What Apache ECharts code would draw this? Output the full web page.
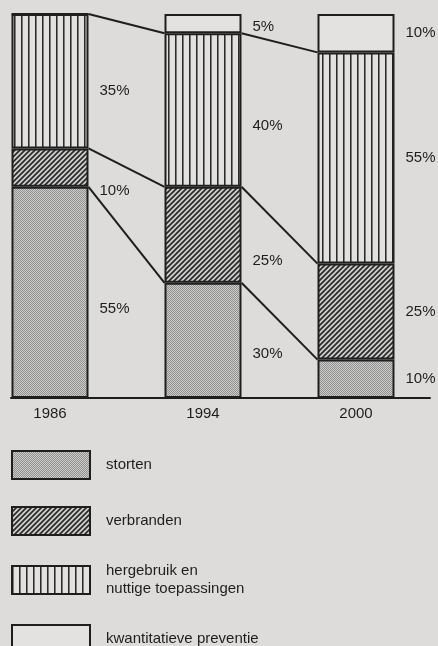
<!DOCTYPE html>
<html>
<head>
<meta charset="utf-8">
<script src="https://cdn.jsdelivr.net/npm/echarts@6/dist/echarts.min.js"></script>
<style>
    html, body { margin: 0; padding: 0; background: #dddcda; }
    #chart { width: 438px; height: 646px; }
</style>
</head>
<body>
<div id="chart"></div>
<script>
// gegevens (percentages per jaar)
var years = ['1986', '1994', '2000'];
var storten = [55, 30, 10];
var verbranden = [10, 25, 25];
var hergebruik = [35, 40, 55];
var preventie = [0, 5, 10];
var seriesNames = ['storten', 'verbranden', 'hergebruik en\nnuttige toepassingen', 'kwantitatieve preventie'];

var BG = '#dddcda';
var INK = '#1e1e1e';
var BAR_W = 77;
var FONT = '15px "Liberation Sans", Arial, sans-serif';

// arceringen als canvas-patroon
function makePattern(w, h, draw) {
    var c = document.createElement('canvas');
    c.width = w;
    c.height = h;
    draw(c.getContext('2d'), w, h);
    return { image: c, repeat: 'repeat' };
}

var dotFill = makePattern(2, 2, function (ctx, w, h) {
    ctx.fillStyle = '#cacac8';
    ctx.fillRect(0, 0, w, h);
    ctx.fillStyle = '#939393';
    ctx.fillRect(0, 0, 1, 1);
    ctx.fillRect(1, 1, 1, 1);
});

var hatchFill = makePattern(5, 5, function (ctx, w, h) {
    ctx.fillStyle = '#d0d0ce';
    ctx.fillRect(0, 0, w, h);
    ctx.strokeStyle = '#2a2a2a';
    ctx.lineWidth = 1.7;
    ctx.beginPath();
    ctx.moveTo(0, h); ctx.lineTo(w, 0);
    ctx.moveTo(-1, 1); ctx.lineTo(1, -1);
    ctx.moveTo(w - 1, h + 1); ctx.lineTo(w + 1, h - 1);
    ctx.stroke();
});

var stripeFill = makePattern(7, 4, function (ctx, w, h) {
    ctx.fillStyle = '#e2e1df';
    ctx.fillRect(0, 0, w, h);
    ctx.fillStyle = '#2a2a2a';
    ctx.fillRect(0, 0, 1, h);
    ctx.fillStyle = '#7a7a7a';
    ctx.fillRect(1, 0, 1, h);
});

var fills = [dotFill, hatchFill, stripeFill, '#e3e2e0'];
var seriesVals = [storten, verbranden, hergebruik, preventie];

// verbindingslijnen tussen de grenzen van de segmenten
var cumLevels = years.map(function (y, i) {
    var a = storten[i], b = a + verbranden[i], c = b + hergebruik[i];
    return [a, b, c];
});
var connectorData = [];
for (var i = 0; i < years.length - 1; i++) {
    for (var k = 0; k < 3; k++) {
        connectorData.push([i, cumLevels[i][k], cumLevels[i + 1][k]]);
    }
}

// percentages rechts naast de staven, midden tussen de lijnen
var LABEL_F = 0.34;
var labelData = [];
var labelText = [];
years.forEach(function (y, i) {
    var lo = 0, loN = 0;
    seriesVals.forEach(function (vals, k) {
        var hi = lo + vals[i];
        var mid;
        if (i < years.length - 1) {
            var hiN = loN + seriesVals[k][i + 1];
            mid = (lo + (loN - lo) * LABEL_F + hi + (hiN - hi) * LABEL_F) / 2;
            loN = hiN;
        } else {
            mid = (lo + hi) / 2;
        }
        if (vals[i] > 0) {
            labelData.push([i, mid]);
            labelText.push(vals[i] + '%');
        }
        lo = hi;
    });
});

var chart = echarts.init(document.getElementById('chart'));

var series = seriesVals.map(function (vals, k) {
    return {
        name: seriesNames[k],
        type: 'bar',
        stack: 'total',
        barWidth: BAR_W,
        data: vals,
        clip: false,
        itemStyle: { color: fills[k], borderColor: INK, borderWidth: 2 }
    };
});

series.push({
    type: 'custom',
    data: connectorData,
    encode: { x: 0, y: 1 },
    renderItem: function (params, api) {
        var idx = api.value(0);
        var p1 = api.coord([idx, api.value(1)]);
        var p2 = api.coord([idx + 1, api.value(2)]);
        return {
            type: 'line',
            shape: { x1: p1[0] + BAR_W / 2, y1: p1[1], x2: p2[0] - BAR_W / 2, y2: p2[1] },
            style: { stroke: INK, lineWidth: 2 }
        };
    }
});

series.push({
    type: 'custom',
    data: labelData,
    encode: { x: 0, y: 1 },
    renderItem: function (params, api) {
        var p = api.coord([api.value(0), api.value(1)]);
        return {
            type: 'text',
            x: p[0] + BAR_W / 2 + 11,
            y: p[1],
            style: {
                text: labelText[params.dataIndex],
                fill: INK,
                font: FONT,
                align: 'left',
                verticalAlign: 'middle'
            }
        };
    }
});

var option = {
    backgroundColor: BG,
    animation: false,
    grid: [
        { left: 50, right: 82, top: 14, bottom: 248 },
        { left: 11, right: 8, top: 14, bottom: 248 }
    ],
    xAxis: [
        {
            type: 'category',
            data: years,
            boundaryGap: false,
            axisLine: { show: false },
            axisTick: { show: false },
            axisLabel: { color: INK, fontSize: 15, fontFamily: 'Liberation Sans', margin: 8 }
        },
        {
            gridIndex: 1,
            type: 'value',
            min: 0,
            max: 1,
            axisLine: { show: true, lineStyle: { color: INK, width: 2 } },
            axisTick: { show: false },
            axisLabel: { show: false },
            splitLine: { show: false }
        }
    ],
    yAxis: [
        { type: 'value', min: 0, max: 100, show: false },
        { gridIndex: 1, type: 'value', min: 0, max: 1, show: false }
    ],
    legend: {
        data: seriesNames,
        orient: 'vertical',
        left: 11,
        top: 450,
        height: 300,
        padding: 0,
        icon: 'rect',
        itemWidth: 78,
        itemHeight: 28,
        itemGap: 26,
        selectedMode: false,
        textStyle: { color: INK, fontSize: 15, fontFamily: 'Liberation Sans', lineHeight: 18, padding: [0, 0, 0, 11] }
    },
    series: series
};

chart.setOption(option);
</script>
</body>
</html>
